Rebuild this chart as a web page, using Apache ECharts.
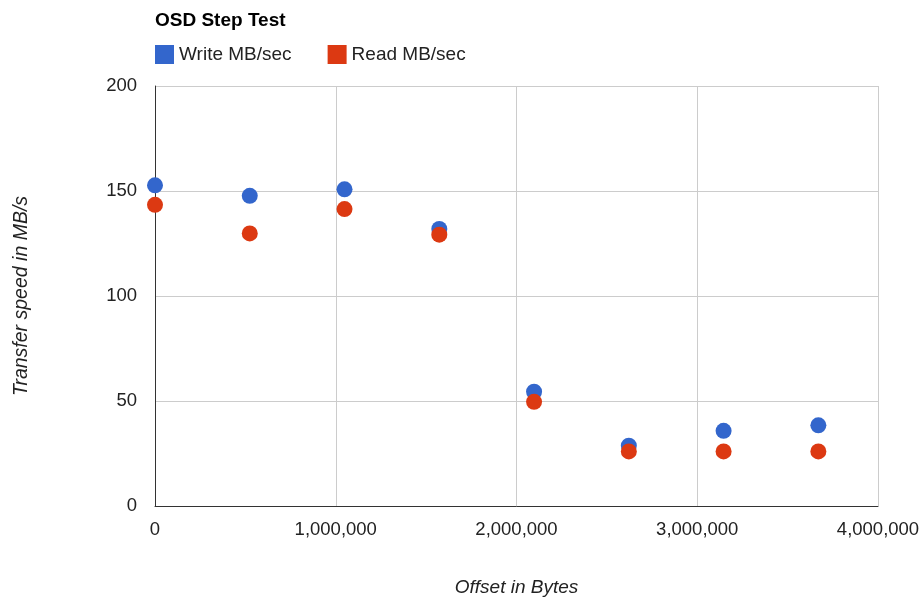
<!DOCTYPE html>
<html><head><meta charset="utf-8">
<script src="https://cdn.jsdelivr.net/npm/echarts@6/dist/echarts.min.js"></script>
<style>html,body{margin:0;padding:0;background:#fff}#c{width:924px;height:602px}</style>
</head><body><div id="c"></div>
<script>
const offsets = [0, 524288, 1048576, 1572864, 2097152, 2621440, 3145728, 3670016];
const writeMB = [152.7, 147.7, 150.8, 131.9, 54.4, 28.7, 35.8, 38.4];
const readMB = [143.4, 129.8, 141.4, 129.2, 49.6, 26.0, 26.0, 26.0];
const seriesNames = ['Write MB/sec', 'Read MB/sec'];
const chart = echarts.init(document.getElementById('c'));
const font = 'Arial, "Liberation Sans", sans-serif';
chart.setOption({
  animation: false,
  title: { text: 'OSD Step Test', left: 150, top: 6, textStyle: { fontFamily: font, fontSize: 19, fontWeight: 'bold', color: '#000' } },
  legend: { left: 150, top: 40, itemWidth: 19, itemHeight: 19, itemGap: 36, icon: 'rect',
    textStyle: { fontFamily: font, fontSize: 19, color: '#222' }, data: seriesNames },
  grid: { left: 155, top: 86, right: 46, bottom: 92 },
  xAxis: { type: 'value', min: 0, max: 4000000, interval: 1000000,
    name: 'Offset in Bytes', nameLocation: 'middle', nameGap: 72,
    nameTextStyle: { fontFamily: font, fontSize: 19, fontStyle: 'italic', color: '#222' },
    axisLine: { show: true, lineStyle: { color: '#333', width: 1 } }, axisTick: { show: false },
    axisLabel: { fontFamily: font, fontSize: 18.5, color: '#222', margin: 14,
      formatter: v => v.toLocaleString('en-US') },
    splitLine: { show: true, lineStyle: { color: '#ccc' } } },
  yAxis: { type: 'value', min: 0, max: 200, interval: 50,
    name: 'Transfer speed in MB/s', nameLocation: 'middle', nameGap: 123, nameRotate: 90,
    nameTextStyle: { fontFamily: font, fontSize: 19.5, fontStyle: 'italic', color: '#222' },
    axisLine: { show: true, lineStyle: { color: '#333', width: 1 } }, axisTick: { show: false },
    axisLabel: { fontFamily: font, fontSize: 18.5, color: '#222', margin: 18 },
    splitLine: { show: true, lineStyle: { color: '#ccc' } } },
  series: [
    { name: seriesNames[0], type: 'scatter', symbolSize: 16, itemStyle: { color: '#3366cc', opacity: 1 },
      data: offsets.map((x, i) => [x, writeMB[i]]) },
    { name: seriesNames[1], type: 'scatter', symbolSize: 16, itemStyle: { color: '#dc3912', opacity: 1 },
      data: offsets.map((x, i) => [x, readMB[i]]) }
  ]
});
</script></body></html>
